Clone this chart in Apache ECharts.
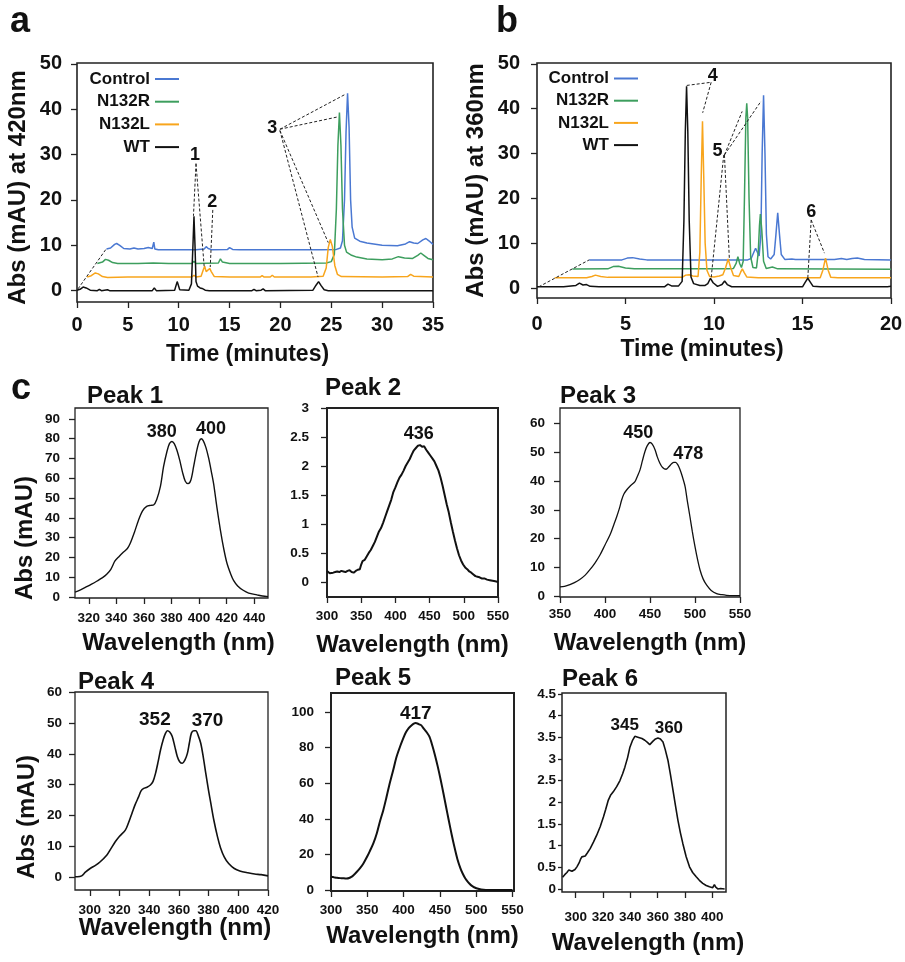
<!DOCTYPE html>
<html><head><meta charset="utf-8">
<script src="https://cdn.jsdelivr.net/npm/echarts@6/dist/echarts.min.js"></script>
<style>html,body{margin:0;padding:0;background:#fff}#c{width:905px;height:962px}</style>
</head><body><div id="c"></div>
<script>
// ---------------- DATA ----------------
const seriesNames = ['Control', 'N132R', 'N132L', 'WT'];

// Panel a: HPLC at 420 nm, [time (min), mAU]
const ctrlA = [[2.9,9.2],[3.3,9.4],[3.7,10.2],[3.9,10.4],[4.2,10.0],[4.6,9.3],[5.2,9.2],[5.6,9.4],[6.0,9.2],[6.6,9.3],[7.0,9.5],[7.4,9.3],[7.55,10.7],[7.65,9.2],[8,9.0],[10,9.0],[11.4,9.0],[11.55,9.4],[11.7,9.0],[12.5,9.2],[12.7,9.7],[12.9,9.3],[13.3,9.0],[14.8,9.1],[15.0,9.5],[15.3,9.1],[16,9.0],[20,9.0],[24,9.0],[25.5,9.1],[25.9,9.4],[26.1,11],[26.3,20],[26.45,35],[26.6,43.5],[26.75,36],[26.9,20],[27.05,14],[27.3,11.6],[27.8,10.9],[28.5,10.5],[30,10.0],[31.5,9.9],[32.3,10.3],[32.7,10.8],[33.1,10.5],[33.5,10.4],[34.0,11.2],[34.3,11.5],[34.6,11.0],[35,10.2]];
const n132rA = [[2.0,6.0],[2.5,6.3],[2.8,6.9],[3.1,6.7],[3.5,6.2],[4,6.0],[6,6.0],[7.5,6.1],[9,6.0],[11.3,6.0],[11.5,6.5],[11.7,6.0],[13.9,6.1],[14.1,7.0],[14.3,6.3],[15,6.0],[20,6.0],[24.5,6.1],[25.0,6.4],[25.3,8],[25.5,18],[25.65,32],[25.8,39.3],[25.95,32],[26.1,18],[26.3,10],[26.5,8.5],[27.0,7.8],[27.5,7.4],[28.5,7.0],[30,6.8],[31.0,7.0],[31.6,7.5],[32.2,7.2],[33.0,7.1],[33.5,7.8],[33.8,8.3],[34.1,7.8],[34.5,7.1],[35,6.8]];
const n132lA = [[1.0,3.0],[1.4,3.3],[1.8,3.9],[2.1,3.7],[2.5,3.1],[3,2.9],[5,3.0],[7,3.0],[9.5,3.0],[11.3,3.0],[11.5,3.4],[11.7,3.0],[12.2,3.2],[12.4,4.5],[12.55,5.4],[12.7,4.2],[12.85,3.8],[13.05,4.9],[13.2,4.2],[13.5,3.1],[15,3.0],[18.0,3.0],[18.2,3.3],[18.4,3.0],[19.0,3.0],[19.2,3.4],[19.4,3.0],[23,3.0],[24.2,3.2],[24.5,5],[24.7,9.5],[24.9,11.3],[25.1,9.8],[25.35,5.5],[25.6,3.6],[26,3.1],[30,3.0],[32.5,3.1],[32.8,3.6],[33.1,3.2],[35,3.0]];
const wtA = [[0,0.1],[0.3,0.3],[0.6,0.8],[0.9,0.6],[1.3,0.1],[2.0,0.0],[2.2,0.3],[2.4,0.0],[3.0,0.2],[3.2,0.0],[5,0.0],[7.4,0.0],[7.6,0.6],[7.8,0.0],[9.6,0.1],[9.85,2.0],[10.1,0.2],[11.0,0.1],[11.25,1.5],[11.4,10],[11.5,16.4],[11.6,10],[11.7,2],[11.85,1.0],[12.1,0.6],[12.3,0.5],[12.6,0.1],[13,0.0],[17.2,0.0],[17.4,0.3],[17.6,0.0],[18.1,0.1],[18.3,0.4],[18.5,0.0],[23.2,0.1],[23.5,1.2],[23.75,2.0],[24.0,1.1],[24.3,0.2],[24.7,0.0],[35,0.0]];
const labelsA = [[11.6,30,'1'],[13.3,19.5,'2'],[19.2,35.9,'3']];
const leadersA = [[0.1,0.4,2.9,9.3],[11.7,28,11.45,16.5],[11.7,28,12.5,5.4],[13.35,17.8,13.1,5.2],[19.95,35.6,26.3,43.2],[19.95,35.6,25.6,38.3],[19.95,35.3,24.7,10.6],[19.95,35.3,23.7,3.0]];

// Panel b: HPLC at 360 nm
const ctrlB = [[2.95,6.3],[4.8,6.3],[5.1,6.7],[5.4,6.8],[5.8,6.5],[6.2,6.3],[11.9,6.3],[12.1,6.6],[12.25,8.0],[12.35,8.9],[12.45,8.0],[12.55,7.2],[12.65,12],[12.72,30],[12.8,43],[12.88,30],[12.96,12],[13.05,7],[13.2,6.5],[13.4,7.5],[13.5,12],[13.6,16.8],[13.7,12],[13.8,7.5],[14.0,6.4],[14.4,6.5],[14.5,6.9],[14.6,6.4],[16.8,6.4],[17.2,6.6],[17.5,6.4],[17.8,6.6],[18.1,6.7],[18.5,6.4],[20,6.3]];
const n132rB = [[2.0,4.25],[4.0,4.3],[4.3,4.8],[4.6,4.9],[5.0,4.5],[5.5,4.3],[10.8,4.3],[11.1,4.4],[11.25,5.5],[11.35,7.0],[11.45,5.5],[11.55,4.6],[11.65,6],[11.72,20],[11.8,38],[11.85,41.2],[11.9,38],[11.98,20],[12.07,7],[12.2,4.6],[12.4,4.5],[12.5,8],[12.57,14],[12.62,16.5],[12.7,13],[12.8,6],[12.95,4.4],[13.3,4.7],[13.6,4.3],[20,4.2]];
const n132lB = [[1.0,2.3],[2.8,2.3],[3.1,2.6],[3.3,2.9],[3.6,2.6],[4,2.4],[8.2,2.4],[8.4,2.9],[8.6,3.0],[8.8,2.7],[9.1,2.6],[9.2,8],[9.28,25],[9.35,37.2],[9.42,25],[9.5,10],[9.6,4],[9.75,2.6],[10.0,2.5],[10.3,2.7],[10.5,3.0],[10.65,4.5],[10.8,6.5],[10.95,4.5],[11.1,2.8],[11.4,2.6],[11.5,3.5],[11.6,4.3],[11.7,3.5],[11.85,2.5],[12.5,2.3],[16.0,2.3],[16.15,4.0],[16.3,6.7],[16.45,4.0],[16.6,2.4],[17,2.3],[20,2.3]];
const wtB = [[0,0.3],[1.5,0.3],[2.2,0.6],[2.4,1.1],[2.6,0.7],[2.8,0.8],[3.0,0.4],[3.5,0.3],[7.2,0.3],[7.4,0.9],[7.6,0.5],[8.0,0.5],[8.2,1.5],[8.3,15],[8.38,35],[8.45,45],[8.52,35],[8.6,15],[8.7,2.5],[8.85,1.0],[9.2,0.6],[9.5,0.6],[9.65,1.0],[9.8,2.2],[9.95,1.2],[10.2,0.4],[10.45,0.8],[10.6,1.6],[10.75,0.8],[11,0.3],[15.0,0.3],[15.15,1.3],[15.3,2.2],[15.45,1.3],[15.6,0.4],[16,0.3],[19.8,0.3],[19.9,0.2],[20,0.4]];
const labelsB = [[9.93,47.3,'4'],[10.2,30.5,'5'],[15.5,16.9,'6']];
const leadersB = [[0.1,0.3,2.95,6.3],[8.46,45.2,9.84,45.9],[9.84,45.9,9.36,39.1],[10.59,29.7,10.87,6.3],[10.55,29.7,9.84,2.3],[10.59,29.7,11.59,39.4],[10.59,29.7,12.66,41.7],[15.49,15.2,15.3,2.3],[15.49,15.2,16.24,7.8]];

// Panel c: UV-vis spectra, [wavelength (nm), mAU]
const peak1 = [[310,2.5],[314,3.6],[318.5,5.2],[322,6.5],[326,8.1],[330,9.8],[333,11.5],[336,14],[339,18.2],[342,20.5],[345,22.6],[348,24.5],[350,27],[353,32.5],[356,38.7],[359,43.5],[362,45.8],[365,46.3],[367,46.5],[369.3,49.3],[372,56],[374.2,65.7],[376.7,73.5],[378.5,77.5],[380.3,78.6],[382,77.5],[384,74],[386,69],[388,63],[390,58.5],[392,57.3],[394,59],[396,65.7],[398,73],[400,78.5],[401.6,80],[403,79],[405,75.5],[407,70],[409,63],[410.6,57],[413,45],[415.5,33.7],[418,24],[420.3,16.9],[423,11.5],[425,8.4],[428,5.6],[432,3.4],[436,2.0],[442,1.1],[446,0.5],[450,0.2]];
const peak2 = [[300,0.19],[302,0.17],[304,0.15],[306,0.16],[309,0.16],[312,0.17],[315,0.18],[318,0.17],[321,0.19],[324,0.18],[327,0.17],[330,0.19],[333,0.2],[336,0.17],[339,0.16],[342,0.19],[345,0.21],[348,0.22],[350,0.3],[352,0.36],[355,0.38],[358,0.44],[361,0.5],[364,0.55],[367,0.62],[370,0.69],[373,0.78],[376,0.87],[379,0.93],[382,1.02],[385,1.12],[388,1.22],[391,1.32],[394,1.42],[397,1.55],[400,1.63],[403,1.72],[406,1.8],[409,1.85],[412,1.92],[415,2.0],[418,2.06],[421,2.12],[424,2.2],[427,2.27],[430,2.31],[433,2.35],[436,2.36],[439,2.33],[442,2.34],[445,2.28],[448,2.23],[451,2.18],[454,2.13],[457,2.08],[460,2.0],[463,1.92],[466,1.8],[469,1.66],[472,1.5],[475,1.34],[478,1.2],[481,1.03],[484,0.87],[487,0.72],[490,0.58],[493,0.46],[496,0.37],[499,0.3],[502,0.25],[505,0.22],[508,0.18],[511,0.16],[514,0.13],[517,0.1],[520,0.09],[523,0.08],[526,0.06],[530,0.06],[534,0.04],[538,0.03],[542,0.02],[546,0.01],[550,0.0]];
const peak3 = [[350,3.2],[355,3.4],[361,4.0],[366,4.7],[372,5.8],[378,7.3],[383,9.1],[389,11.6],[394.4,14.3],[400,17.8],[405.6,21.3],[410,25],[413,27.6],[416,30.5],[418.5,33.4],[421,35.5],[424,36.9],[428,38.3],[433.3,39.8],[436,41.7],[438.9,43.9],[441.5,47],[444.4,50.3],[447,52.3],[450,53.4],[452.5,52.8],[455.6,50.9],[458,48.5],[461,46.2],[464,44.7],[467.8,44.1],[471,45],[474,46.0],[476.5,46.5],[478.5,46.5],[481,45.6],[483.3,44],[486,41.5],[489,38.1],[491.5,33],[494.4,27.6],[497,22.5],[500,17.2],[503,12.5],[505.6,9.1],[509,6],[513,3.8],[518,2.0],[524,0.9],[530,0.5],[535,0.3],[542,0.2],[550,0.2]];
const peak4 = [[290,0.0],[291.6,0.0],[294.5,0.3],[297,1.5],[300.2,2.7],[304,3.8],[307,4.9],[311.5,7.1],[314,9],[317.1,11.4],[320,13.2],[323.9,15.2],[326,17.5],[328.4,20.7],[330.5,23.5],[332.9,26.1],[334.5,28],[336.3,28.8],[338.5,29.2],[340.8,29.9],[342.5,31],[344.2,33.6],[346,37.5],[347.6,41.3],[349.5,44.8],[351,46.8],[352.2,47.6],[353.8,47.2],[355.5,45.7],[357.2,42.5],[358.9,39.2],[360.5,37.5],[362.3,37.0],[364,38],[365.7,40.2],[367,43.5],[368.4,46.8],[370,47.6],[371.4,47.6],[373,46],[374.7,43.5],[376.4,39],[378.1,33.7],[380,28],[381.5,23.9],[383.5,18.5],[386,13.0],[388,9.5],[390.5,6.5],[393.5,4.3],[397.3,2.7],[401,1.9],[406.4,1.3],[411,0.9],[415.4,0.7],[420,0.3]];
const peak5 = [[300,7.5],[304,7.2],[308.2,6.9],[314,6.7],[318,6.6],[321.9,6.5],[325,6.8],[328,7.4],[331,8.4],[335,10],[340,12.3],[344.6,15],[350,19],[354,22.4],[358.3,26.2],[363,31.8],[367,38],[372,44.9],[376,51.5],[380,58.5],[385.6,67.3],[390,74.5],[395,80.5],[399.3,85.1],[403,88.5],[407,91],[410.7,92.5],[414,93.5],[416.6,93.8],[419,93.6],[421.5,93.1],[424.4,92.5],[428,90.5],[432,88.5],[435.7,86],[440,80.5],[443,76],[447.1,69.2],[451,62],[455,54],[458.5,46.7],[462,39.5],[466,31.5],[469.9,24.3],[474,17.5],[478,12.5],[481.3,9.3],[485,6.5],[489,4.3],[492.7,2.8],[497,1.6],[504,0.6],[510,0.2],[517.7,0.05],[531,0],[540,0],[550,0]];
const peak6 = [[290.4,0.27],[292,0.33],[293.6,0.38],[295,0.44],[296,0.42],[297.3,0.41],[298.4,0.41],[299.5,0.45],[300.9,0.51],[302.5,0.6],[303.5,0.68],[304.5,0.74],[305.5,0.78],[307,0.76],[308.5,0.83],[310.6,0.93],[313,1.08],[315.4,1.24],[318,1.44],[320.3,1.66],[322,1.84],[323.9,2.05],[325.5,2.16],[327.5,2.24],[330,2.36],[332.4,2.5],[334.3,2.65],[336,2.81],[338,3.03],[339.7,3.27],[341.5,3.42],[343.3,3.52],[344.5,3.53],[345.5,3.5],[346.9,3.5],[348.5,3.47],[350.6,3.43],[352.5,3.38],[354.2,3.33],[355.5,3.37],[356.6,3.41],[358.4,3.46],[360.2,3.48],[362,3.46],[363.9,3.39],[365.5,3.22],[367.5,2.97],[369.3,2.65],[371.2,2.28],[373,1.93],[374.8,1.59],[376.6,1.3],[378.4,1.05],[380.8,0.75],[383.3,0.51],[385.6,0.38],[388.2,0.28],[390.5,0.2],[393,0.13],[395.5,0.08],[397.9,0.05],[400.3,0.03],[401.5,0.1],[402.5,0.04],[404,0.0],[406,0.01],[409,0.0]];

const peakLabels1 = [[373,83.5,'380'],[408.7,85,'400']];
const peakLabels2 = [[434,2.55,'436']];
const peakLabels3 = [[437,56.6,'450'],[492.6,49.3,'478']];
const peakLabels4 = [[343.8,51.3,'352'],[379.3,50.8,'370']];
const peakLabels5 = [[416.7,99.3,'417']];
const peakLabels6 = [[335.9,3.78,'345'],[368.2,3.7,'360']];

// tick values
const ticksTimeA = [0,5,10,15,20,25,30,35];
const ticksTimeB = [0,5,10,15,20];
const ticksAbsAB = [0,10,20,30,40,50];
const ticksX1 = [320,340,360,380,400,420,440];
const ticksY1 = [0,10,20,30,40,50,60,70,80,90];
const ticksX2 = [300,350,400,450,500,550];
const ticksY2 = [0,0.5,1,1.5,2,2.5,3];
const ticksX3 = [350,400,450,500,550];
const ticksY3 = [0,10,20,30,40,50,60];
const ticksX4 = [300,320,340,360,380,400,420];
const ticksY4 = [0,10,20,30,40,50,60];
const ticksX5 = [300,350,400,450,500,550];
const ticksY5 = [0,20,40,60,80,100];
const ticksX6 = [300,320,340,360,380,400];
const ticksY6 = [0,0.5,1,1.5,2,2.5,3,3.5,4,4.5];

// ---------------- STYLE / LAYOUT ----------------
const F = '"Liberation Sans", Arial, Helvetica, sans-serif';
const INK = '#111';
const colors = {Control:'#4a78d2', N132R:'#3d9e5e', N132L:'#f8a51c', WT:'#111111'};

const grids = [
  {left:77, top:63, width:356, height:239, bw:1.6},
  {left:537, top:63, width:354, height:235, bw:1.6},
  {left:75, top:408, width:193, height:190, bw:1.3},
  {left:327, top:408, width:171, height:189, bw:2},
  {left:560, top:408, width:180, height:189, bw:1.3},
  {left:75, top:692, width:193, height:198, bw:1.3},
  {left:331, top:693, width:183, height:198, bw:2},
  {left:562, top:693, width:164, height:199, bw:1.5}
];

function xAxisCfg(i, min, max, ticks, fs, margin, name, gap, nfs, pad) {
  return {type:'value', gridIndex:i, min, max, position:'bottom',
    axisLine:{show:false, onZero:false},
    axisTick:{show:true, length:6, inside:false, customValues:ticks, lineStyle:{color:'#222', width:1.3}},
    axisLabel:{show:true, customValues:ticks, margin, fontSize:fs, fontWeight:'bold', color:INK, fontFamily:F},
    splitLine:{show:false},
    name, nameLocation:'middle', nameGap:gap, nameMoveOverlap:false,
    nameTextStyle:{fontSize:nfs, fontWeight:'bold', color:INK, fontFamily:F, padding:pad || 0}};
}
function yAxisCfg(i, min, max, ticks, fs, margin, name, gap, nfs, tl, pad) {
  return {type:'value', gridIndex:i, min, max, position:'left',
    axisLine:{show:false, onZero:false},
    axisTick:{show:true, length:tl == null ? 6 : tl, inside:false, customValues:ticks, lineStyle:{color:'#222', width:1.3}},
    axisLabel:{show:true, customValues:ticks, margin, fontSize:fs, fontWeight:'bold', color:INK, fontFamily:F},
    splitLine:{show:false},
    name: name || '', nameLocation:'middle', nameGap:gap || 0, nameRotate:90, nameMoveOverlap:false,
    nameTextStyle:{fontSize:nfs || 12, fontWeight:'bold', color:INK, fontFamily:F, padding:pad || 0}};
}

const xAxes = [
  xAxisCfg(0, 0, 35, ticksTimeA, 20, 13, 'Time (minutes)', 41, 23, [0,15,0,0]),
  xAxisCfg(1, 0, 20, ticksTimeB, 20, 16, 'Time (minutes)', 40, 23, [0,24,0,0]),
  xAxisCfg(2, 310, 450, ticksX1, 13.5, 13, 'Wavelength (nm)', 33, 24, [0,0,0,14]),
  xAxisCfg(3, 300, 550, ticksX2, 13.5, 12, 'Wavelength (nm)', 36, 24),
  xAxisCfg(4, 350, 550, ticksX3, 13.5, 10, 'Wavelength (nm)', 34, 24),
  xAxisCfg(5, 290, 420, ticksX4, 13.5, 13, 'Wavelength (nm)', 26, 24, [0,0,0,7]),
  xAxisCfg(6, 300, 552, ticksX5, 13.5, 12, 'Wavelength (nm)', 33, 24),
  xAxisCfg(7, 290, 410, ticksX6, 13.5, 18, 'Wavelength (nm)', 39, 24, [0,0,0,8])
];
const yAxes = [
  yAxisCfg(0, -2.5, 50.2, ticksAbsAB, 20, 15, 'Abs (mAU) at 420nm', 47, 24, 6, [0,10,0,0]),
  yAxisCfg(1, -2.2, 50.2, ticksAbsAB, 20, 17, 'Abs (mAU) at 360nm', 49, 24),
  yAxisCfg(2, -0.5, 95.5, ticksY1, 13.5, 15),
  yAxisCfg(3, -0.26, 3.0, ticksY2, 13.5, 18),
  yAxisCfg(4, -0.3, 65.4, ticksY3, 13.5, 15),
  yAxisCfg(5, -4.3, 60.2, ticksY4, 13.5, 13),
  yAxisCfg(6, -0.5, 110.7, ticksY5, 13.5, 17),
  yAxisCfg(7, -0.07, 4.52, ticksY6, 13.5, 6, '', 0, 12, 4)
];

function trace(i, name, data, color, width, smooth) {
  return {type:'line', name, xAxisIndex:i, yAxisIndex:i, data, symbol:'none', showSymbol:false,
    smooth: smooth || false, color, lineStyle:{color, width}, silent:true, z:3};
}
function leaders(i, segs) {
  return {type:'lines', coordinateSystem:'cartesian2d', xAxisIndex:i, yAxisIndex:i, silent:true, z:4,
    lineStyle:{color:'#222', width:1, type:[3,2], opacity:1, curveness:0},
    data: segs.map(s => ({coords:[[s[0], s[1]], [s[2], s[3]]]}))};
}
function textMarks(i, arr, fs) {
  return {type:'scatter', xAxisIndex:i, yAxisIndex:i, symbolSize:0, silent:true, z:5,
    itemStyle:{color:INK, opacity:1},
    data: arr.map(a => ({value:[a[0], a[1]], name:a[2]})),
    label:{show:true, position:'inside', formatter:'{b}', fontSize:fs, fontWeight:'bold', color:INK,
      opacity:1, textBorderWidth:0, textBorderColor:'transparent', fontFamily:F}};
}

const series = [
  trace(0, 'Control', ctrlA, colors.Control, 1.5),
  trace(0, 'N132R', n132rA, colors.N132R, 1.5),
  trace(0, 'N132L', n132lA, colors.N132L, 1.5),
  trace(0, 'WT', wtA, colors.WT, 1.5),
  leaders(0, leadersA), textMarks(0, labelsA, 18),
  trace(1, 'Control', ctrlB, colors.Control, 1.5),
  trace(1, 'N132R', n132rB, colors.N132R, 1.5),
  trace(1, 'N132L', n132lB, colors.N132L, 1.5),
  trace(1, 'WT', wtB, colors.WT, 1.5),
  leaders(1, leadersB), textMarks(1, labelsB, 18),
  trace(2, 'Peak 1', peak1, INK, 1.4, 0.3), textMarks(2, peakLabels1, 18),
  trace(3, 'Peak 2', peak2, INK, 2.0), textMarks(3, peakLabels2, 18),
  trace(4, 'Peak 3', peak3, INK, 1.3, 0.3), textMarks(4, peakLabels3, 18),
  trace(5, 'Peak 4', peak4, INK, 1.6, 0.3), textMarks(5, peakLabels4, 19),
  trace(6, 'Peak 5', peak5, INK, 2.0, 0.3), textMarks(6, peakLabels5, 19),
  trace(7, 'Peak 6', peak6, INK, 1.6), textMarks(7, peakLabels6, 17)
];

function legendCfg(right, top, gap) {
  return {data: seriesNames, orient:'vertical', right, top, align:'right', icon:'rect',
    itemWidth:24, itemHeight:2, itemGap:gap, padding:0, selectedMode:false,
    textStyle:{fontSize:17, fontWeight:'bold', color:INK, fontFamily:F}};
}

function txt(x, y, text, size, align, rot) {
  return {type:'text', x, y, rotation: rot || 0, silent:true,
    style:{text, font:'bold ' + size + 'px ' + F, fill:INK, align: align || 'center', verticalAlign:'middle'}};
}

const option = {
  animation:false,
  backgroundColor:'#ffffff',
  grid: grids.map(g => ({left:g.left, top:g.top, width:g.width, height:g.height, show:true,
    borderColor:'#222', borderWidth:g.bw, backgroundColor:'transparent', containLabel:false, outerBoundsMode:'none'})),
  xAxis: xAxes,
  yAxis: yAxes,
  legend: [legendCfg(726, 70.5, 5.7), legendCfg(267, 70, 5.2)],
  series,
  graphic: [
    txt(20, 22, 'a', 36), txt(507, 22, 'b', 36), txt(21, 389, 'c', 36),
    txt(87, 396, 'Peak 1', 24, 'left'), txt(325, 388, 'Peak 2', 24, 'left'), txt(560, 396, 'Peak 3', 24, 'left'),
    txt(78, 682, 'Peak 4', 24, 'left'), txt(335, 678, 'Peak 5', 24, 'left'), txt(562, 679, 'Peak 6', 24, 'left'),
    txt(25, 538, 'Abs (mAU)', 24, 'center', Math.PI / 2),
    txt(27.5, 817, 'Abs (mAU)', 24, 'center', Math.PI / 2)
  ]
};

const chart = echarts.init(document.getElementById('c'), null, {renderer:'canvas', width:905, height:962});
chart.setOption(option);
</script>
</body></html>
